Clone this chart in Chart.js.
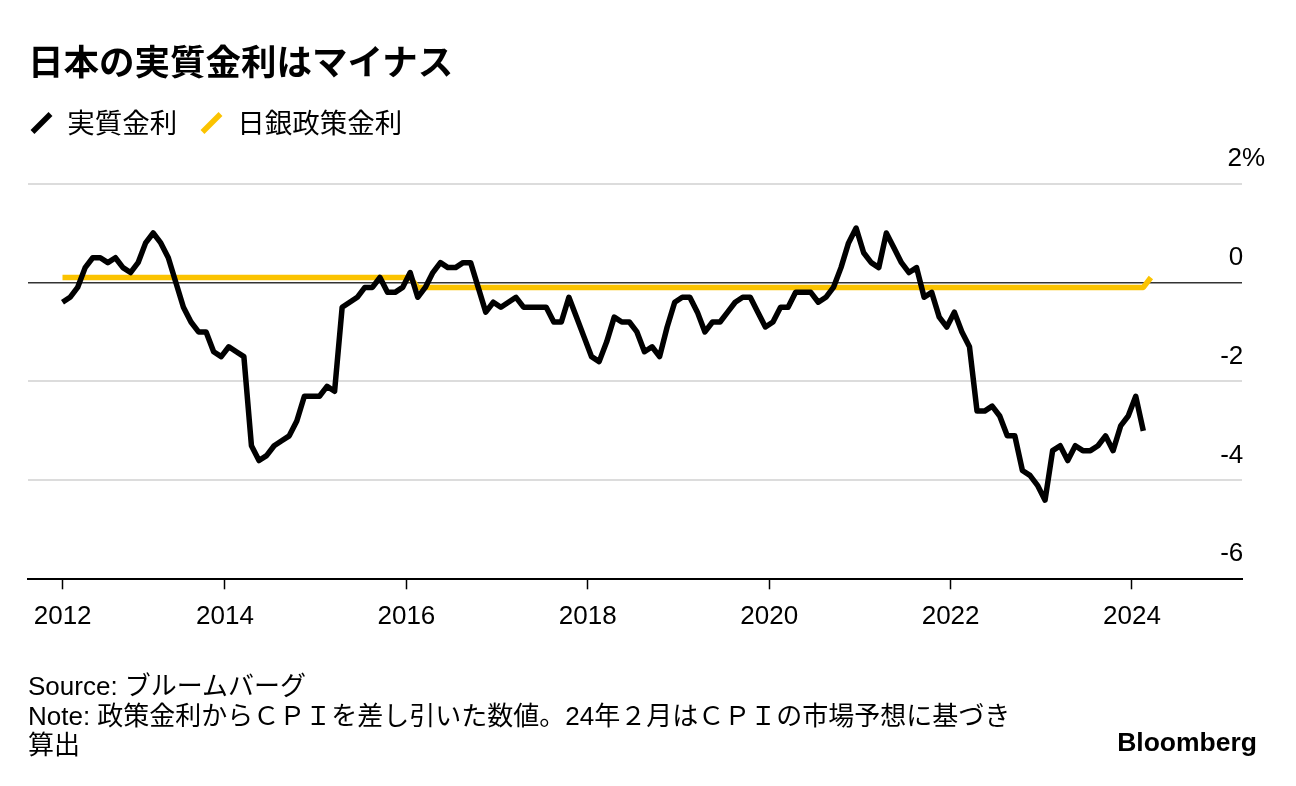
<!DOCTYPE html>
<html lang="ja">
<head>
<meta charset="utf-8">
<script src="https://cdn.jsdelivr.net/npm/chart.js@4.4.1/dist/chart.umd.min.js"></script>
<style>
  body { margin: 0; background: #fff; }
  #wrap { position: relative; width: 1296px; height: 786px; color: #000;
          font-family: "Liberation Sans", "Noto Sans CJK JP", sans-serif; }
  #chart { position: absolute; left: 0; top: 0; }
  .title { position: absolute; left: 28px; top: 39px; font: bold 35.5px/42px "Noto Sans CJK JP", sans-serif; }
  .foot { position: absolute; left: 28px; top: 672px; font-size: 26px; line-height: 29.5px; }
  .logo { position: absolute; right: 39px; top: 727px; font: bold 26.5px/30px "Liberation Sans", sans-serif; }
</style>
</head>
<body>
<div id="wrap">
  <canvas id="chart" width="1296" height="786"></canvas>
  <div class="title">日本の実質金利はマイナス</div>
  <div class="foot">Source: ブルームバーグ<br>Note: 政策金利からＣＰＩを差し引いた数値。24年２月はＣＰＩの市場予想に基づき<br>算出</div>
  <div class="logo">Bloomberg</div>
</div>
<script>
// monthly series, first month = Mar 2012
const startYear = 2012;
const startMonth = 3;

// 実質金利: policy rate minus CPI (%), Mar 2012 .. Feb 2024
const realRate = [
  -0.4, -0.3, -0.1, 0.3, 0.5, 0.5, 0.4, 0.5, 0.3, 0.2,             // 2012
  0.4, 0.8, 1.0, 0.8, 0.5, 0.0, -0.5, -0.8, -1.0, -1.0, -1.4, -1.5, // 2013
  -1.3, -1.4, -1.5, -3.3, -3.6, -3.5, -3.3, -3.2, -3.1, -2.8, -2.3, -2.3, // 2014
  -2.3, -2.1, -2.2, -0.5, -0.4, -0.3, -0.1, -0.1, 0.1, -0.2, -0.2, -0.1, // 2015
  0.2, -0.3, -0.1, 0.2, 0.4, 0.3, 0.3, 0.4, 0.4, -0.1, -0.6, -0.4,  // 2016
  -0.5, -0.4, -0.3, -0.5, -0.5, -0.5, -0.5, -0.8, -0.8, -0.3, -0.7, -1.1, // 2017
  -1.5, -1.6, -1.2, -0.7, -0.8, -0.8, -1.0, -1.4, -1.3, -1.5, -0.9, -0.4, // 2018
  -0.3, -0.3, -0.6, -1.0, -0.8, -0.8, -0.6, -0.4, -0.3, -0.3, -0.6, -0.9, // 2019
  -0.8, -0.5, -0.5, -0.2, -0.2, -0.2, -0.4, -0.3, -0.1, 0.3, 0.8, 1.1, // 2020
  0.6, 0.4, 0.3, 1.0, 0.7, 0.4, 0.2, 0.3, -0.3, -0.2, -0.7, -0.9,   // 2021
  -0.6, -1.0, -1.3, -2.6, -2.6, -2.5, -2.7, -3.1, -3.1, -3.8, -3.9, -4.1, // 2022
  -4.4, -3.4, -3.3, -3.6, -3.3, -3.4, -3.4, -3.3, -3.1, -3.4, -2.9, -2.7, // 2023
  -2.3, -3.0                                                         // 2024
];

// 日銀政策金利 (%), Mar 2012 .. Mar 2024
const policyRate = [
  0.1, 0.1, 0.1, 0.1, 0.1, 0.1, 0.1, 0.1, 0.1, 0.1,                  // 2012
  0.1, 0.1, 0.1, 0.1, 0.1, 0.1, 0.1, 0.1, 0.1, 0.1, 0.1, 0.1,        // 2013
  0.1, 0.1, 0.1, 0.1, 0.1, 0.1, 0.1, 0.1, 0.1, 0.1, 0.1, 0.1,        // 2014
  0.1, 0.1, 0.1, 0.1, 0.1, 0.1, 0.1, 0.1, 0.1, 0.1, 0.1, 0.1,        // 2015
  0.1, -0.1, -0.1, -0.1, -0.1, -0.1, -0.1, -0.1, -0.1, -0.1, -0.1, -0.1, // 2016
  -0.1, -0.1, -0.1, -0.1, -0.1, -0.1, -0.1, -0.1, -0.1, -0.1, -0.1, -0.1, // 2017
  -0.1, -0.1, -0.1, -0.1, -0.1, -0.1, -0.1, -0.1, -0.1, -0.1, -0.1, -0.1, // 2018
  -0.1, -0.1, -0.1, -0.1, -0.1, -0.1, -0.1, -0.1, -0.1, -0.1, -0.1, -0.1, // 2019
  -0.1, -0.1, -0.1, -0.1, -0.1, -0.1, -0.1, -0.1, -0.1, -0.1, -0.1, -0.1, // 2020
  -0.1, -0.1, -0.1, -0.1, -0.1, -0.1, -0.1, -0.1, -0.1, -0.1, -0.1, -0.1, // 2021
  -0.1, -0.1, -0.1, -0.1, -0.1, -0.1, -0.1, -0.1, -0.1, -0.1, -0.1, -0.1, // 2022
  -0.1, -0.1, -0.1, -0.1, -0.1, -0.1, -0.1, -0.1, -0.1, -0.1, -0.1, -0.1, // 2023
  -0.1, -0.1, 0.1                                                     // 2024
];

const seriesNames = ["実質金利", "日銀政策金利"];
const xTickLabels = ["2012", "2014", "2016", "2018", "2020", "2022", "2024"];
const xTickValues = [2012.21, 2014, 2016, 2018, 2020, 2022, 2024];
const yTicks = [-6, -4, -2, 0, 2];

const YELLOW = "#FBC300";
const LATIN = "'Liberation Sans', 'Noto Sans CJK JP', sans-serif";
const CJK = "'Noto Sans CJK JP', sans-serif";

// mid-month position in fractional years
function monthT(i) {
  return startYear + (startMonth - 1 + i + 0.5) / 12;
}
const toPoints = arr => arr.map((v, i) => ({ x: monthT(i), y: v }));

function lineSet(label, values, color) {
  return {
    label: label,
    data: toPoints(values),
    borderColor: color,
    backgroundColor: color,
    borderWidth: 5.5,
    borderJoinStyle: "round",
    pointRadius: 0,
    pointHoverRadius: 0,
    pointStyle: "line",
    pointRotation: -45,
    tension: 0,
    yAxisID: "y"
  };
}

new Chart(document.getElementById("chart"), {
  type: "line",
  data: {
    datasets: [
      lineSet(seriesNames[0], realRate, "#000"),
      lineSet(seriesNames[1], policyRate, YELLOW)
    ]
  },
  options: {
    responsive: false,
    animation: false,
    events: [],
    layout: { padding: { top: 87, left: 7.25, right: 54, bottom: 141.5 } },
    plugins: {
      tooltip: { enabled: false },
      legend: {
        position: "top",
        align: "start",
        labels: {
          usePointStyle: true,
          boxWidth: 24,
          boxHeight: 18,
          padding: 22.25,
          color: "#000",
          font: { family: CJK, size: 27.5 }
        }
      }
    },
    scales: {
      x: {
        type: "linear",
        min: 2011.828,
        max: 2025.213,
        afterBuildTicks: s => { s.ticks = xTickValues.map(v => ({ value: v })); },
        grid: { drawOnChartArea: false, drawTicks: true, tickLength: 10, tickColor: "#000", tickWidth: 1.5 },
        border: { display: true, color: "#000", width: 2 },
        ticks: {
          autoSkip: false,
          maxRotation: 0,
          padding: 12,
          color: "#000",
          font: { family: LATIN, size: 26 },
          callback: (v, i) => xTickLabels[i]
        }
      },
      y: {
        position: "right",
        min: -6,
        max: 2.743,
        afterBuildTicks: s => { s.ticks = yTicks.map(v => ({ value: v })); },
        afterFit: s => { s.width = 0; },
        grid: {
          drawTicks: false,
          color: c => c.tick.value === 0 ? "#333" : (c.tick.value === -6 ? "rgba(0,0,0,0)" : "#dcdcdc"),
          lineWidth: c => c.tick.value === 0 ? 1.5 : 2
        },
        border: { display: false },
        ticks: {
          mirror: true,
          padding: 23,
          labelOffset: -25,
          color: "#000",
          font: { family: LATIN, size: 26 },
          // "%" hangs to the right of the numbers
          callback: v => v === 2 ? "2%" : String(v) + "   "
        }
      },
      pad: {
        type: "linear",
        axis: "y",
        position: "left",
        grid: { display: false },
        border: { display: false },
        ticks: { display: false },
        afterFit: s => { s.width = 20.75; }
      }
    }
  }
});
</script>
</body>
</html>
